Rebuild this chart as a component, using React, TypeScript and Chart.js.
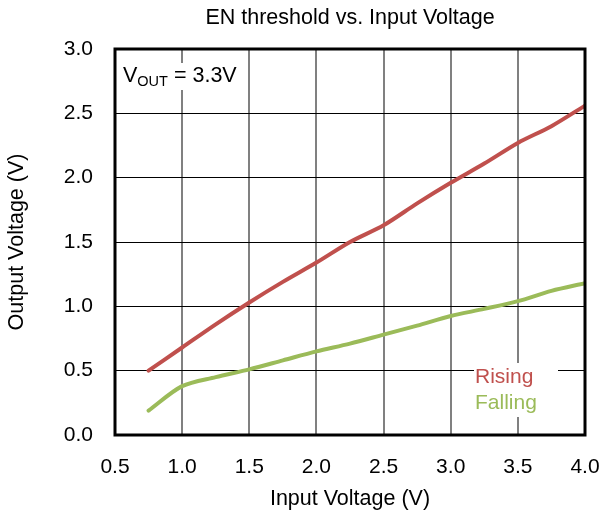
import React, { useEffect, useRef } from "react";
import { Chart, registerables } from "chart.js";

Chart.register(...registerables);

// Input voltage sweep (V)
const inputVoltage = [0.75, 1.0, 1.25, 1.5, 1.75, 2.0, 2.25, 2.5, 2.75, 3.0, 3.25, 3.5, 3.75, 4.0];
// EN threshold, rising edge (V)
const risingThreshold = [0.5, 0.68, 0.86, 1.03, 1.19, 1.34, 1.5, 1.63, 1.8, 1.96, 2.11, 2.27, 2.4, 2.56];
// EN threshold, falling edge (V)
const fallingThreshold = [0.19, 0.38, 0.45, 0.51, 0.58, 0.65, 0.71, 0.78, 0.85, 0.925, 0.98, 1.04, 1.12, 1.18];

const chartTitle = "EN threshold vs. Input Voltage";
const xTitle = "Input Voltage (V)";
const yTitle = "Output Voltage (V)";
const seriesNames = ["Rising", "Falling"];
const seriesColors = ["#C0504D", "#9BBB59"];

const FONT = "'Liberation Sans', Arial, sans-serif";

const decorations = {
  id: "decorations",
  beforeDraw(chart: any) {
    const { ctx, width, height } = chart;
    ctx.save();
    ctx.fillStyle = "#ffffff";
    ctx.fillRect(0, 0, width, height);
    ctx.restore();
  },
  beforeDatasetsDraw(chart: any) {
    const { ctx, chartArea } = chart;
    ctx.save();
    // chart heading
    ctx.fillStyle = "#000";
    ctx.font = `21.5px ${FONT}`;
    ctx.textAlign = "center";
    ctx.textBaseline = "middle";
    ctx.fillText(chartTitle, (chartArea.left + chartArea.right) / 2, 18);

    // output voltage note
    const x0 = chartArea.left + 8;
    const yBase = chartArea.top + 33;
    ctx.font = `21.5px ${FONT}`;
    const wV = ctx.measureText("V").width;
    ctx.font = `14.5px ${FONT}`;
    const wSub = ctx.measureText("OUT").width;
    ctx.font = `21.5px ${FONT}`;
    const rest = " = 3.3V";
    const wRest = ctx.measureText(rest).width;
    ctx.fillStyle = "#fff";
    ctx.fillRect(x0 - 2, yBase - 19, wV + wSub + wRest + 4, 27);
    ctx.fillStyle = "#000";
    ctx.textAlign = "left";
    ctx.textBaseline = "alphabetic";
    ctx.fillText("V", x0, yBase);
    ctx.font = `14.5px ${FONT}`;
    ctx.fillText("OUT", x0 + wV, yBase + 4);
    ctx.font = `21.5px ${FONT}`;
    ctx.fillText(rest, x0 + wV + wSub, yBase);

    // series labels
    const lx = 475;
    ctx.fillStyle = "#fff";
    ctx.fillRect(lx - 1, 363, 84, 54);
    ctx.font = `21px ${FONT}`;
    ctx.textBaseline = "middle";
    ctx.fillStyle = seriesColors[0];
    ctx.fillText(seriesNames[0], lx, 377);
    ctx.fillStyle = seriesColors[1];
    ctx.fillText(seriesNames[1], lx, 403);
    ctx.restore();
  },
  afterDatasetsDraw(chart: any) {
    const { ctx, chartArea } = chart;
    ctx.save();
    ctx.strokeStyle = "#000";
    ctx.lineWidth = 3;
    ctx.strokeRect(
      chartArea.left,
      chartArea.top,
      chartArea.right - chartArea.left,
      chartArea.bottom - chartArea.top
    );
    ctx.restore();
  },
};

export default function App() {
  const canvasRef = useRef<HTMLCanvasElement | null>(null);

  useEffect(() => {
    const canvas = canvasRef.current;
    if (!canvas) return;
    const chart = new Chart(canvas, {
      type: "line",
      data: {
        datasets: [
          {
            label: seriesNames[0],
            data: inputVoltage.map((x, i) => ({ x, y: risingThreshold[i] })),
            borderColor: seriesColors[0],
            backgroundColor: seriesColors[0],
            borderWidth: 4,
            pointRadius: 0,
            tension: 0.3,
            borderCapStyle: "round",
          },
          {
            label: seriesNames[1],
            data: inputVoltage.map((x, i) => ({ x, y: fallingThreshold[i] })),
            borderColor: seriesColors[1],
            backgroundColor: seriesColors[1],
            borderWidth: 4,
            pointRadius: 0,
            tension: 0.3,
            borderCapStyle: "round",
          },
        ],
      },
      options: {
        responsive: false,
        animation: false,
        events: [],
        layout: { padding: { top: 49, right: 16, left: 0, bottom: 0 } },
        plugins: {
          legend: { display: false },
          title: { display: false },
          tooltip: { enabled: false },
        },
        scales: {
          x: {
            type: "linear",
            min: 0.5,
            max: 4.0,
            afterFit: (scale: any) => {
              scale.height = 81;
              scale.paddingLeft = 0;
              scale.paddingRight = 0;
            },
            ticks: {
              stepSize: 0.5,
              padding: 20,
              color: "#000",
              font: { family: FONT, size: 21 },
              callback: (v: any) => Number(v).toFixed(1),
            },
            grid: { color: "#808080", lineWidth: 2, drawTicks: false },
            border: { display: false },
            title: {
              display: true,
              text: xTitle,
              color: "#000",
              font: { family: FONT, size: 21.5 },
              padding: { top: 0, bottom: 4 },
            },
          },
          y: {
            type: "linear",
            min: 0,
            max: 3.0,
            afterFit: (scale: any) => {
              scale.width = 115;
              scale.paddingTop = 0;
              scale.paddingBottom = 0;
            },
            ticks: {
              stepSize: 0.5,
              padding: 22,
              color: "#000",
              font: { family: FONT, size: 21 },
              callback: (v: any) => Number(v).toFixed(1),
            },
            grid: { color: "#000", lineWidth: 1, drawTicks: false },
            border: { display: false },
            title: {
              display: true,
              text: yTitle,
              color: "#000",
              font: { family: FONT, size: 21.5 },
              padding: { top: 4, bottom: 0 },
            },
          },
        },
      },
      plugins: [decorations],
    });
    return () => chart.destroy();
  }, []);

  return (
    <div style={{ position: "fixed", left: 0, top: 0, width: 601, height: 516, background: "#fff" }}>
      <canvas ref={canvasRef} width={601} height={516} style={{ display: "block" }} />
    </div>
  );
}
